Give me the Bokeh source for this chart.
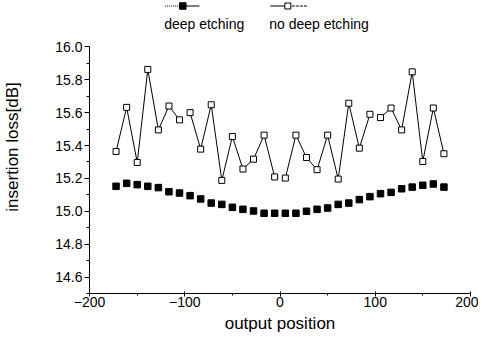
import numpy as np
from bokeh.plotting import figure
from bokeh.models import Range1d, FixedTicker, PrintfTickFormatter
from bokeh.core.properties import value
from bokeh.embed import file_html
from bokeh.resources import INLINE

# --- data -------------------------------------------------------------
positions = [-172.1, -161.0, -149.9, -138.8, -127.7, -116.6, -105.5, -94.4,
             -83.3, -72.2, -61.1, -50.0, -38.9, -27.8, -16.7, -5.6,
             5.6, 16.7, 27.8, 38.9, 50.0, 61.1, 72.2, 83.3,
             94.4, 105.5, 116.6, 127.7, 138.8, 149.9, 161.0, 172.1]

deep_etching = [15.152, 15.170, 15.162, 15.152, 15.144, 15.119, 15.111, 15.095,
                15.075, 15.050, 15.042, 15.024, 15.012, 15.002, 14.988, 14.988,
                14.988, 14.988, 15.000, 15.012, 15.020, 15.042, 15.050, 15.071,
                15.089, 15.107, 15.115, 15.137, 15.147, 15.158, 15.166, 15.147]

no_deep_etching = [15.364, 15.632, 15.297, 15.863, 15.495, 15.640, 15.556, 15.600,
                   15.378, 15.648, 15.188, 15.455, 15.257, 15.317, 15.463, 15.209,
                   15.202, 15.463, 15.327, 15.253, 15.463, 15.196, 15.657, 15.384,
                   15.590, 15.570, 15.628, 15.495, 15.848, 15.303, 15.628, 15.350]

# indices after which the connecting line is interrupted
line_breaks = [6, 15, 24]

y_ticks = [14.6, 14.8, 15.0, 15.2, 15.4, 15.6, 15.8, 16.0]
y_minor = [14.5, 14.7, 14.9, 15.1, 15.3, 15.5, 15.7, 15.9]
x_ticks = [-200, -100, 0, 100, 200]
x_minor = [-150, -50, 50, 150]

series_names = ["deep etching", "no deep etching"]

FONT = "Liberation Sans"

# --- figure -------------------------------------------------------------
p = figure(width=478, height=335, output_backend="svg", toolbar_location=None,
           x_range=Range1d(-200, 200), y_range=Range1d(14.5, 16.282),
           min_border_left=82, min_border_right=8, min_border_top=0,
           min_border_bottom=41)
p.outline_line_color = None
p.grid.visible = False
p.background_fill_color = "white"
p.border_fill_color = "white"

# open-square series with broken line
lx, ly = [], []
for i, (xv, yv) in enumerate(zip(positions, no_deep_etching)):
    lx.append(xv)
    ly.append(yv)
    if i in line_breaks:
        lx.append(np.nan)
        ly.append(np.nan)
p.line(lx, ly, line_color="black", line_width=1)
p.scatter(positions, no_deep_etching, marker="square", size=6,
          fill_color="white", line_color="black", line_width=1)

# filled-square series
p.scatter(positions, deep_etching, marker="square", size=6.5,
          fill_color="black", line_color="black")

# --- legend drawn in data space above the axis ----------------------------
def px_to_x(px):
    return (px - 284) / 0.97

def py_to_y(py):
    return 16.0 - (py - 54) / 165.0

gy = py_to_y(13)
ty = py_to_y(31)
p.line([px_to_x(167), px_to_x(183)], [gy, gy], line_color="black",
       line_width=1, line_dash="1 1")
p.line([px_to_x(185), px_to_x(202)], [gy, gy], line_color="black",
       line_width=1)
p.scatter([px_to_x(185)], [gy], marker="square", size=6.5,
          fill_color="black", line_color="black")
p.line([px_to_x(274), px_to_x(292)], [gy, gy], line_color="black",
       line_width=1)
p.line([px_to_x(292), px_to_x(312)], [gy, gy], line_color="black",
       line_width=1, line_dash="3 1")
p.scatter([px_to_x(292)], [gy], marker="square", size=6,
          fill_color="white", line_color="black")
p.text([px_to_x(166), px_to_x(273)], [ty, ty], text=series_names,
       text_font=value(FONT), text_font_size="14px", text_color="black",
       text_align="left", text_baseline="middle")

# --- axes -----------------------------------------------------------------
yax = p.yaxis[0]
yax.bounds = (14.5, 16.0)
yax.ticker = FixedTicker(ticks=y_ticks, minor_ticks=y_minor)
yax.formatter = PrintfTickFormatter(format="%.1f")
yax.axis_label = "insertion loss[dB]"
yax.axis_label_text_font = FONT
yax.axis_label_text_font_size = "17px"
yax.axis_label_text_font_style = "normal"
yax.axis_label_text_color = "black"
yax.axis_label_standoff = 30
yax.major_label_text_font = FONT
yax.major_label_text_font_size = "14px"
yax.major_label_text_color = "black"
yax.major_label_standoff = 2
yax.major_tick_out = 5
yax.major_tick_in = 0
yax.minor_tick_out = 3
yax.minor_tick_in = 0
yax.axis_line_color = "black"
yax.major_tick_line_color = "black"
yax.minor_tick_line_color = "black"

xax = p.xaxis[0]
xax.bounds = (-200, 200)
xax.ticker = FixedTicker(ticks=x_ticks, minor_ticks=x_minor)
xax.axis_label = "output position"
xax.axis_label_text_font = FONT
xax.axis_label_text_font_size = "17px"
xax.axis_label_text_font_style = "normal"
xax.axis_label_text_color = "black"
xax.axis_label_standoff = 4
xax.major_label_text_font = FONT
xax.major_label_text_font_size = "14px"
xax.major_label_text_color = "black"
xax.major_label_standoff = 0
xax.major_tick_out = 3
xax.major_tick_in = 2
xax.minor_tick_out = 2
xax.minor_tick_in = 0
xax.axis_line_color = "black"
xax.major_tick_line_color = "black"
xax.minor_tick_line_color = "black"

open("out.html", "w").write(file_html(p, INLINE))
